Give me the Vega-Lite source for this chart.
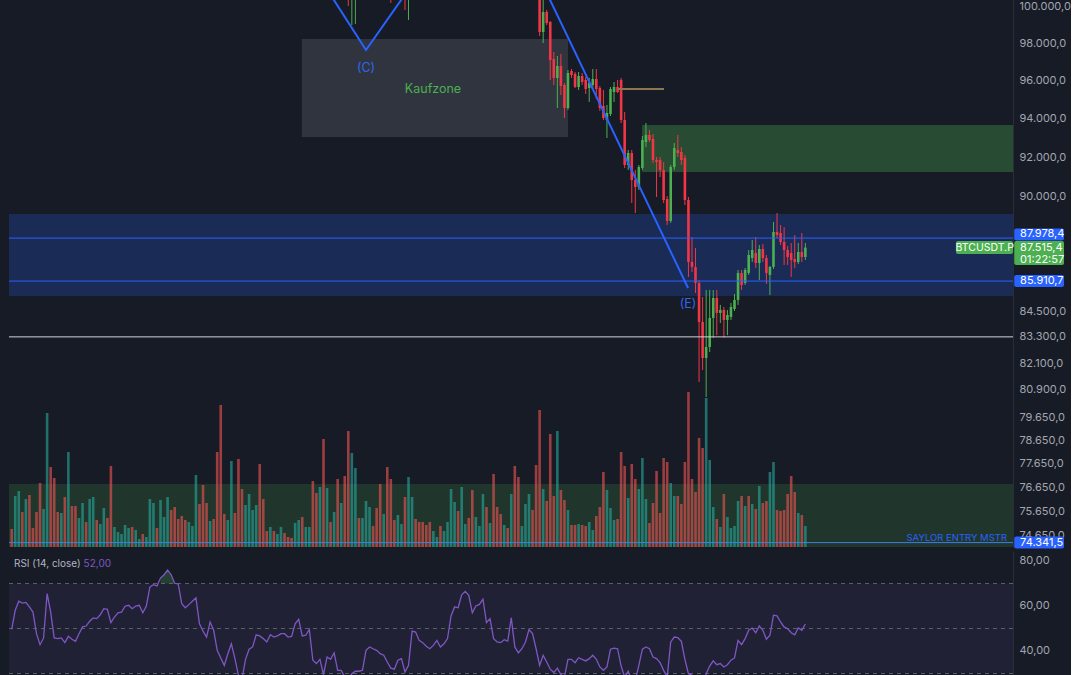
{
"$schema":"https://vega.github.io/schema/vega-lite/v6.json",
"background":"#171b26",
"padding":{"left":8,"top":0,"right":0,"bottom":0},
"spacing":2,
"config":{"view":{"stroke":null},"font":"Inter","locale":{"number":{"decimal":",","thousands":".","grouping":[3],"currency":[""," €"]}}},
"datasets":{
"zones":[{"k":"grey","x1":81.9,"x2":157.0,"lo":93036,"hi":98218},{"k":"green","x1":177.9,"x2":282.6,"lo":91253,"hi":93656},{"k":"blue","x1":-0.76,"x2":282.6,"lo":85204,"hi":89157},{"k":"green2","x1":-0.76,"x2":282.6,"lo":70000,"hi":76790}],
"hl":[{"k":"blue","p":87978.4},{"k":"blue","p":85910.7},{"k":"white","p":83300},{"k":"light","p":74341.5}],
"zz":[{"i":86.4,"p":101757},{"i":100.0,"p":97623},{"i":134.9,"p":107604},{"i":190.9,"p":85582}],
"tan":[{"i":171.1,"p":95540},{"i":184.1,"p":95540}],
"labels":[{"i":118.9,"p":95540,"t":"Kaufzone","k":"green"},{"i":100.0,"p":96656,"t":"(C)","k":"blue"},{"i":190.9,"p":84828,"t":"(E)","k":"blue"}],
"badges":[{"k":"hi","p":87978.4},{"k":"lo","p":85910.7},{"k":"lo","p":74341.5},{"k":"last","p":87515.4,"t2":"01:22:57","sym":"BTCUSDT.P"}],
"bars":[
{"i":0,"v":1.8,"u":0,"r":49.6},{"i":1,"v":5.1,"u":1,"r":58.1},{"i":2,"v":5.6,"u":1,"r":62.1},{"i":3,"v":3.5,"u":0,"r":61.3},{"i":4,"v":4.8,"u":1,"r":61.6},{"i":5,"v":5.2,"u":0,"r":59.6},{"i":6,"v":1.9,"u":0,"r":57.3},{"i":7,"v":3.5,"u":0,"r":47.7},{"i":8,"v":6.4,"u":0,"r":42.8},{"i":9,"v":3.8,"u":1,"r":45.8},
{"i":10,"v":13.4,"u":1,"r":65.5},{"i":11,"v":8.0,"u":0,"r":57.3},{"i":12,"v":6.9,"u":0,"r":45.8},{"i":13,"v":3.5,"u":0,"r":45.5},{"i":14,"v":3.4,"u":1,"r":45.8},{"i":15,"v":5.0,"u":0,"r":43.7},{"i":16,"v":9.5,"u":1,"r":46.5},{"i":17,"v":4.1,"u":0,"r":45.2},{"i":18,"v":4.1,"u":0,"r":44.3},{"i":19,"v":2.9,"u":1,"r":47.7},
{"i":20,"v":4.4,"u":1,"r":50.7},{"i":21,"v":2.5,"u":0,"r":51.1},{"i":22,"v":4.8,"u":1,"r":53.2},{"i":23,"v":5.0,"u":1,"r":54.7},{"i":24,"v":2.7,"u":0,"r":54.4},{"i":25,"v":2.3,"u":1,"r":56.1},{"i":26,"v":3.9,"u":1,"r":58.8},{"i":27,"v":2.9,"u":0,"r":58.5},{"i":28,"v":8.1,"u":0,"r":52.6},{"i":29,"v":2.0,"u":1,"r":55.1},
{"i":30,"v":1.5,"u":1,"r":57.0},{"i":31,"v":1.3,"u":1,"r":57.3},{"i":32,"v":2.2,"u":1,"r":59.9},{"i":33,"v":1.9,"u":1,"r":60.3},{"i":34,"v":2.0,"u":0,"r":58.8},{"i":35,"v":1.7,"u":1,"r":60.0},{"i":36,"v":0.8,"u":1,"r":60.3},{"i":37,"v":1.3,"u":0,"r":57.0},{"i":38,"v":1.0,"u":1,"r":60.0},{"i":39,"v":4.8,"u":1,"r":68.4},
{"i":40,"v":4.4,"u":1,"r":69.5},{"i":41,"v":1.9,"u":0,"r":68.9},{"i":42,"v":4.7,"u":1,"r":72.4},{"i":43,"v":3.0,"u":1,"r":73.9},{"i":44,"v":5.0,"u":1,"r":76.0},{"i":45,"v":3.7,"u":0,"r":73.9},{"i":46,"v":4.0,"u":0,"r":70.1},{"i":47,"v":2.8,"u":0,"r":69.8},{"i":48,"v":3.1,"u":0,"r":61.0},{"i":49,"v":2.7,"u":0,"r":59.2},
{"i":50,"v":2.5,"u":1,"r":60.6},{"i":51,"v":2.1,"u":1,"r":62.1},{"i":52,"v":7.2,"u":1,"r":63.6},{"i":53,"v":4.3,"u":0,"r":52.1},{"i":54,"v":6.2,"u":0,"r":48.8},{"i":55,"v":4.4,"u":0,"r":46.2},{"i":56,"v":2.6,"u":1,"r":52.9},{"i":57,"v":2.8,"u":0,"r":49.2},{"i":58,"v":9.5,"u":0,"r":40.3},{"i":59,"v":14.2,"u":0,"r":36.9},
{"i":60,"v":3.3,"u":0,"r":33.6},{"i":61,"v":2.7,"u":1,"r":38.8},{"i":62,"v":8.6,"u":1,"r":43.2},{"i":63,"v":3.4,"u":0,"r":36.6},{"i":64,"v":8.8,"u":0,"r":29.2},{"i":65,"v":5.8,"u":0,"r":27.7},{"i":66,"v":4.2,"u":1,"r":36.3},{"i":67,"v":5.3,"u":1,"r":40.8},{"i":68,"v":3.7,"u":1,"r":41.8},{"i":69,"v":4.2,"u":1,"r":47.2},
{"i":70,"v":8.3,"u":0,"r":46.7},{"i":71,"v":4.8,"u":0,"r":45.5},{"i":72,"v":1.6,"u":0,"r":44.0},{"i":73,"v":2.0,"u":1,"r":47.2},{"i":74,"v":1.6,"u":0,"r":46.2},{"i":75,"v":1.3,"u":1,"r":46.7},{"i":76,"v":2.0,"u":1,"r":47.7},{"i":77,"v":1.4,"u":0,"r":47.7},{"i":78,"v":1.0,"u":0,"r":46.2},{"i":79,"v":0.9,"u":0,"r":46.5},
{"i":80,"v":2.4,"u":1,"r":52.1},{"i":81,"v":2.7,"u":1,"r":54.1},{"i":82,"v":3.0,"u":0,"r":46.7},{"i":83,"v":2.0,"u":1,"r":47.0},{"i":84,"v":2.0,"u":1,"r":49.6},{"i":85,"v":6.6,"u":0,"r":35.9},{"i":86,"v":5.4,"u":0,"r":34.4},{"i":87,"v":6.0,"u":1,"r":36.3},{"i":88,"v":10.8,"u":0,"r":29.5},{"i":89,"v":5.9,"u":1,"r":37.3},
{"i":90,"v":2.5,"u":0,"r":36.3},{"i":91,"v":3.5,"u":1,"r":39.2},{"i":92,"v":6.8,"u":0,"r":31.4},{"i":93,"v":4.4,"u":1,"r":31.4},{"i":94,"v":7.1,"u":0,"r":28.4},
{"i":95,"v":11.6,"u":0,"r":27.5,"o":101200,"h":101500,"l":100028,"c":100600},
{"i":96,"v":9.4,"u":1,"r":29.9,"o":100700,"h":102200,"l":98982,"c":101800},
{"i":97,"v":7.9,"u":1,"r":31.0,"o":100500,"h":101900,"l":99037,"c":101400},
{"i":98,"v":2.9,"u":0,"r":31.0},{"i":99,"v":2.9,"u":1,"r":31.4},
{"i":100,"v":4.6,"u":1,"r":40.3},{"i":101,"v":4.0,"u":1,"r":41.8},{"i":102,"v":2.1,"u":0,"r":41.0},{"i":103,"v":3.9,"u":0,"r":40.3},{"i":104,"v":6.3,"u":0,"r":38.8},{"i":105,"v":3.3,"u":1,"r":38.1},{"i":106,"v":8.0,"u":0,"r":35.1},
{"i":107,"v":6.8,"u":0,"r":32.4,"o":101600,"h":102000,"l":100200,"c":100800},
{"i":108,"v":2.7,"u":0,"r":31.9},{"i":109,"v":3.2,"u":1,"r":35.9},{"i":110,"v":2.3,"u":1,"r":36.6},
{"i":111,"v":5.0,"u":0,"r":30.7,"o":101900,"h":102300,"l":99807,"c":101000},
{"i":112,"v":7.0,"u":1,"r":33.6,"o":100900,"h":102200,"l":99256,"c":101800},
{"i":113,"v":5.0,"u":1,"r":48.8},{"i":114,"v":2.8,"u":0,"r":48.4},{"i":115,"v":2.5,"u":0,"r":44.7},{"i":116,"v":2.5,"u":0,"r":43.7},{"i":117,"v":2.2,"u":0,"r":42.1},{"i":118,"v":2.5,"u":0,"r":41.0},{"i":119,"v":1.6,"u":1,"r":42.5},
{"i":120,"v":1.0,"u":1,"r":44.7},{"i":121,"v":2.1,"u":0,"r":41.8},{"i":122,"v":1.6,"u":1,"r":43.2},{"i":123,"v":2.5,"u":1,"r":45.5},{"i":124,"v":5.8,"u":1,"r":55.6},{"i":125,"v":4.5,"u":1,"r":59.6},{"i":126,"v":3.6,"u":0,"r":59.2},{"i":127,"v":6.0,"u":1,"r":65.0},{"i":128,"v":2.3,"u":1,"r":66.5},{"i":129,"v":2.9,"u":0,"r":64.7},
{"i":130,"v":5.7,"u":0,"r":57.0},{"i":131,"v":3.0,"u":1,"r":60.0},{"i":132,"v":2.1,"u":1,"r":60.7},{"i":133,"v":5.3,"u":1,"r":63.0},{"i":134,"v":4.0,"u":0,"r":52.6},{"i":135,"v":2.4,"u":1,"r":54.4},{"i":136,"v":7.3,"u":0,"r":45.5},{"i":137,"v":4.0,"u":0,"r":44.0},{"i":138,"v":3.3,"u":0,"r":43.7},{"i":139,"v":2.2,"u":1,"r":45.0},
{"i":140,"v":1.9,"u":0,"r":44.4},{"i":141,"v":5.3,"u":1,"r":54.7},{"i":142,"v":8.1,"u":0,"r":41.8},{"i":143,"v":7.0,"u":0,"r":39.2},{"i":144,"v":2.1,"u":1,"r":41.0},{"i":145,"v":4.3,"u":1,"r":44.0},{"i":146,"v":5.3,"u":1,"r":49.5},{"i":147,"v":3.7,"u":0,"r":47.7},{"i":148,"v":8.2,"u":0,"r":41.0},
{"i":149,"v":13.7,"u":0,"r":33.6,"o":100917,"h":101476,"l":98382,"c":98599},
{"i":150,"v":5.8,"u":1,"r":38.1,"o":98599,"h":100450,"l":98001,"c":99696},
{"i":151,"v":4.6,"u":0,"r":35.1,"o":99696,"h":99807,"l":98982,"c":99092},
{"i":152,"v":11.3,"u":0,"r":31.9,"o":99146,"h":99200,"l":96016,"c":97084},
{"i":153,"v":5.1,"u":0,"r":30.4,"o":97138,"h":97515,"l":95751,"c":96123},
{"i":154,"v":11.6,"u":1,"r":32.4,"o":96123,"h":97299,"l":94541,"c":96763},
{"i":155,"v":5.7,"u":0,"r":29.5,"o":96763,"h":97407,"l":95223,"c":95698},
{"i":156,"v":4.7,"u":0,"r":28.4,"o":95751,"h":95857,"l":94021,"c":94541},
{"i":157,"v":3.7,"u":1,"r":36.3,"o":94541,"h":96549,"l":94437,"c":96389},
{"i":158,"v":2.2,"u":0,"r":36.3,"o":96496,"h":96602,"l":96123,"c":96283},
{"i":159,"v":2.2,"u":0,"r":34.8,"o":96336,"h":96442,"l":95593,"c":95645},
{"i":160,"v":2.3,"u":1,"r":37.0,"o":95645,"h":96442,"l":95487,"c":96229},
{"i":161,"v":2.2,"u":0,"r":36.3,"o":96229,"h":96389,"l":95751,"c":95910},
{"i":162,"v":2.1,"u":0,"r":35.6,"o":96016,"h":96176,"l":95276,"c":95540},
{"i":163,"v":2.5,"u":1,"r":36.6,"o":95593,"h":96123,"l":94855,"c":95857},
{"i":164,"v":1.7,"u":1,"r":38.1,"o":95751,"h":96602,"l":95540,"c":96070},
{"i":165,"v":3.1,"u":0,"r":36.3,"o":96070,"h":96602,"l":95013,"c":95540},
{"i":166,"v":4.0,"u":0,"r":32.9,"o":95593,"h":95698,"l":94385,"c":94541},
{"i":167,"v":7.5,"u":0,"r":31.4,"o":94646,"h":95487,"l":93917,"c":94021},
{"i":168,"v":5.7,"u":1,"r":32.9,"o":93917,"h":94698,"l":92987,"c":94282},
{"i":169,"v":3.9,"u":1,"r":40.8,"o":94229,"h":95645,"l":94124,"c":95540},
{"i":170,"v":2.7,"u":1,"r":41.3,"o":95381,"h":95910,"l":94855,"c":95645},
{"i":171,"v":2.8,"u":0,"r":41.0,"o":95645,"h":96016,"l":95329,"c":95381},
{"i":172,"v":9.5,"u":0,"r":33.3,"o":96016,"h":96123,"l":93761,"c":93917},
{"i":173,"v":8.1,"u":0,"r":28.4,"o":93917,"h":94334,"l":91456,"c":91608},
{"i":174,"v":4.9,"u":1,"r":31.0,"o":91608,"h":92372,"l":91355,"c":92218},
{"i":175,"v":8.3,"u":0,"r":27.0,"o":92218,"h":92372,"l":89702,"c":90851},
{"i":176,"v":6.8,"u":0,"r":27.0,"o":90851,"h":91355,"l":89207,"c":90500},
{"i":177,"v":5.8,"u":1,"r":33.6,"o":90500,"h":91608,"l":90349,"c":91507},
{"i":178,"v":8.9,"u":1,"r":40.8,"o":91456,"h":93089,"l":91355,"c":92884},
{"i":179,"v":4.8,"u":1,"r":41.8,"o":92781,"h":93761,"l":92526,"c":93141},
{"i":180,"v":2.4,"u":0,"r":41.0,"o":93141,"h":93399,"l":92781,"c":92884},
{"i":181,"v":4.4,"u":0,"r":37.3,"o":92935,"h":93193,"l":91710,"c":91862},
{"i":182,"v":7.6,"u":0,"r":36.6,"o":91862,"h":92014,"l":90000,"c":91760},
{"i":183,"v":3.4,"u":0,"r":34.8,"o":91862,"h":92014,"l":91000,"c":91355},
{"i":184,"v":8.9,"u":0,"r":31.4,"o":91355,"h":91760,"l":89702,"c":89851},
{"i":185,"v":8.5,"u":0,"r":28.4,"o":89901,"h":90050,"l":88617,"c":88813},
{"i":186,"v":6.4,"u":1,"r":44.0,"o":88813,"h":91608,"l":88715,"c":91507},
{"i":187,"v":5.1,"u":1,"r":46.2,"o":91507,"h":92730,"l":91355,"c":92474},
{"i":188,"v":5.1,"u":0,"r":45.9,"o":92372,"h":93141,"l":92014,"c":92218},
{"i":189,"v":4.3,"u":0,"r":44.3,"o":92269,"h":92526,"l":91608,"c":91862},
{"i":190,"v":8.5,"u":0,"r":36.3,"o":91963,"h":92116,"l":89603,"c":89851},
{"i":191,"v":15.5,"u":0,"r":29.9,"o":89851,"h":90000,"l":86106,"c":86823},
{"i":192,"v":6.8,"u":0,"r":29.2,"o":86823,"h":88031,"l":86345,"c":86584},
{"i":193,"v":5.5,"u":0,"r":27.0,"o":86584,"h":87498,"l":85347,"c":85821},
{"i":194,"v":10.9,"u":0,"r":25.0,"o":85821,"h":85965,"l":81246,"c":83989},
{"i":195,"v":9.9,"u":0,"r":24.0,"o":83989,"h":85158,"l":81787,"c":82332},
{"i":196,"v":14.9,"u":1,"r":29.9,"o":82332,"h":85488,"l":80577,"c":82834},
{"i":197,"v":8.7,"u":1,"r":33.3,"o":82834,"h":85488,"l":82607,"c":84175},
{"i":198,"v":4.0,"u":1,"r":35.6,"o":84175,"h":85488,"l":83248,"c":85111},
{"i":199,"v":2.8,"u":0,"r":33.9,"o":85111,"h":85488,"l":83376,"c":84409},
{"i":200,"v":2.0,"u":1,"r":34.4,"o":84409,"h":84784,"l":83943,"c":84549},
{"i":201,"v":5.3,"u":0,"r":32.9,"o":84549,"h":84688,"l":83248,"c":84082},
{"i":202,"v":3.0,"u":1,"r":33.9,"o":84082,"h":84549,"l":83376,"c":84315},
{"i":203,"v":1.9,"u":1,"r":35.9,"o":84221,"h":84877,"l":84082,"c":84688},
{"i":204,"v":2.1,"u":1,"r":36.9,"o":84595,"h":85300,"l":84502,"c":85018},
{"i":205,"v":4.6,"u":1,"r":44.7,"o":85018,"h":86440,"l":84784,"c":86297},
{"i":206,"v":5.1,"u":0,"r":42.8,"o":86297,"h":86440,"l":85488,"c":85726},
{"i":207,"v":4.1,"u":1,"r":45.5,"o":85821,"h":86536,"l":85726,"c":86440},
{"i":208,"v":5.1,"u":0,"r":49.2,"o":86297,"h":87401,"l":86201,"c":87159},
{"i":209,"v":4.3,"u":1,"r":50.2,"o":87015,"h":87885,"l":86823,"c":87401},
{"i":210,"v":3.8,"u":0,"r":48.1,"o":87256,"h":88031,"l":86536,"c":86775},
{"i":211,"v":6.1,"u":1,"r":51.1,"o":86775,"h":87643,"l":85965,"c":87449},
{"i":212,"v":4.4,"u":0,"r":49.2,"o":87449,"h":87691,"l":86823,"c":87015},
{"i":213,"v":4.6,"u":0,"r":45.2,"o":87015,"h":87159,"l":85774,"c":86297},
{"i":214,"v":7.5,"u":1,"r":47.0,"o":86201,"h":86632,"l":85253,"c":86584},
{"i":215,"v":8.5,"u":1,"r":55.9,"o":86584,"h":88764,"l":86488,"c":88274},
{"i":216,"v":3.7,"u":0,"r":55.6,"o":88274,"h":89207,"l":87982,"c":88129},
{"i":217,"v":3.6,"u":0,"r":52.9,"o":88226,"h":88617,"l":87643,"c":87788},
{"i":218,"v":3.7,"u":0,"r":50.7,"o":87788,"h":88519,"l":86679,"c":87401},
{"i":219,"v":5.3,"u":0,"r":49.9,"o":87401,"h":87594,"l":86679,"c":87063},
{"i":220,"v":7.1,"u":0,"r":48.1,"o":87256,"h":87739,"l":86106,"c":86919},
{"i":221,"v":5.5,"u":0,"r":47.2,"o":86967,"h":88129,"l":86536,"c":86823},
{"i":222,"v":3.4,"u":1,"r":50.2,"o":86823,"h":87739,"l":86727,"c":87304},
{"i":223,"v":3.2,"u":0,"r":49.2,"o":87304,"h":88226,"l":86823,"c":87063},
{"i":224,"v":2.1,"u":1,"r":52.0,"o":87063,"h":87739,"l":86919,"c":87515}
]},
"vconcat":[
{
"width":1004,"height":547,
"layer":[
{"data":{"name":"zones"},"mark":{"type":"rect","clip":true},
 "encoding":{
  "x":{"field":"x1","type":"quantitative","scale":{"domain":[-0.76,282.6],"nice":false,"zero":false,"padding":0},"axis":null},
  "x2":{"field":"x2"},
  "y":{"field":"lo","type":"quantitative","scale":{"type":"log","domain":[74160,100360],"nice":false,"padding":0},"axis":null},
  "y2":{"field":"hi"},
  "color":{"condition":[{"test":"datum.k == 'grey'","value":"rgba(120,123,134,0.26)"},{"test":"datum.k == 'green'","value":"rgba(76,175,80,0.33)"},{"test":"datum.k == 'blue'","value":"rgba(41,98,255,0.22)"}],"value":"rgba(76,175,80,0.19)"}}},
{"data":{"name":"bars"},"mark":{"type":"bar","width":2.6,"clip":true},
 "encoding":{
  "x":{"field":"i","type":"quantitative","scale":{"domain":[-0.76,282.6],"nice":false,"zero":false,"padding":0},"axis":null},
  "y":{"field":"v","type":"quantitative","scale":{"domain":[0,54.7],"nice":false,"padding":0},"axis":null},
  "color":{"condition":{"test":"datum.u == 1","value":"rgba(38,166,154,0.62)"},"value":"rgba(239,83,80,0.62)"}}},
{"layer":[
 {"data":{"name":"bars"},"transform":[{"filter":"isValid(datum.h)"}],"mark":{"type":"rule","strokeWidth":1,"clip":true},
  "encoding":{
   "x":{"field":"i","type":"quantitative","scale":{"domain":[-0.76,282.6],"nice":false,"zero":false,"padding":0},"axis":null},
   "y":{"field":"l","type":"quantitative","scale":{"type":"log","domain":[74160,100360],"nice":false,"padding":0},"axis":{"orient":"right","values":[100000,98000,96000,94000,92000,90000,84500,83300,82100,80900,79650,78650,77650,76650,75650,74650],"format":",.1f","labelColor":"#a3a6af","labelFontSize":11,"labelFont":"Inter","ticks":false,"labelPadding":6,"domainColor":"#2a2e39","grid":false,"title":null,"labelOverlap":false,"labelFlush":false}},
   "y2":{"field":"h"},
   "color":{"condition":{"test":"datum.c >= datum.o","value":"#4caf50"},"value":"#f23645"}}},
 {"data":{"name":"bars"},"transform":[{"filter":"isValid(datum.h)"}],"mark":{"type":"bar","width":2.6,"clip":true},
  "encoding":{
   "x":{"field":"i","type":"quantitative","scale":{"domain":[-0.76,282.6],"nice":false,"zero":false,"padding":0},"axis":null},
   "y":{"field":"o","type":"quantitative","scale":{"type":"log","domain":[74160,100360],"nice":false,"padding":0}},
   "y2":{"field":"c"},
   "color":{"condition":{"test":"datum.c >= datum.o","value":"#4caf50"},"value":"#f23645"}}},
 {"data":{"name":"hl"},"mark":{"type":"rule","strokeWidth":1},
  "encoding":{
   "y":{"field":"p","type":"quantitative","scale":{"type":"log","domain":[74160,100360],"nice":false,"padding":0}},
   "color":{"condition":[{"test":"datum.k == 'blue'","value":"#2962ff"},{"test":"datum.k == 'white'","value":"#d1d4dc"}],"value":"#3d7fe0"}}},
 {"data":{"name":"zz"},"mark":{"type":"line","strokeWidth":2,"color":"#2962ff","clip":true},
  "encoding":{
   "x":{"field":"i","type":"quantitative","scale":{"domain":[-0.76,282.6],"nice":false,"zero":false,"padding":0},"axis":null},
   "y":{"field":"p","type":"quantitative","scale":{"type":"log","domain":[74160,100360],"nice":false,"padding":0}}}},
 {"data":{"name":"tan"},"mark":{"type":"line","strokeWidth":2,"color":"#8a7752","clip":true},
  "encoding":{
   "x":{"field":"i","type":"quantitative","scale":{"domain":[-0.76,282.6],"nice":false,"zero":false,"padding":0},"axis":null},
   "y":{"field":"p","type":"quantitative","scale":{"type":"log","domain":[74160,100360],"nice":false,"padding":0}}}},
 {"data":{"name":"labels"},"mark":{"type":"text","fontSize":12.5,"align":"center","baseline":"middle"},
  "encoding":{
   "x":{"field":"i","type":"quantitative","scale":{"domain":[-0.76,282.6],"nice":false,"zero":false,"padding":0},"axis":null},
   "y":{"field":"p","type":"quantitative","scale":{"type":"log","domain":[74160,100360],"nice":false,"padding":0}},
   "text":{"field":"t"},
   "color":{"condition":{"test":"datum.k == 'green'","value":"#4caf50"},"value":"#2f66f0"}}},
 {"data":{"values":[{"p":74341.5,"t":"SAYLOR ENTRY MSTR"}]},"mark":{"type":"text","align":"right","baseline":"bottom","dx":-6,"dy":0,"fontSize":9.5,"color":"#2962ff"},
  "encoding":{
   "x":{"value":"width"},
   "y":{"field":"p","type":"quantitative","scale":{"type":"log","domain":[74160,100360],"nice":false,"padding":0}},
   "text":{"field":"t"}}},
 {"data":{"name":"badges"},"transform":[{"filter":"datum.k == 'lo'"}],"mark":{"type":"bar","height":12,"color":"#2962ff","cornerRadius":2},
  "encoding":{
   "x":{"datum":282.95,"type":"quantitative","scale":{"domain":[-0.76,282.6],"nice":false,"zero":false,"padding":0},"axis":null},
   "x2":{"datum":297.0},
   "y":{"field":"p","type":"quantitative","scale":{"type":"log","domain":[74160,100360],"nice":false,"padding":0}}}},
 {"data":{"name":"badges"},"transform":[{"filter":"datum.k == 'hi'"}],"mark":{"type":"bar","height":12,"yOffset":-3.6,"color":"#2962ff","cornerRadius":2},
  "encoding":{
   "x":{"datum":282.95,"type":"quantitative","scale":{"domain":[-0.76,282.6],"nice":false,"zero":false,"padding":0},"axis":null},
   "x2":{"datum":297.0},
   "y":{"field":"p","type":"quantitative","scale":{"type":"log","domain":[74160,100360],"nice":false,"padding":0}}}},
 {"data":{"name":"badges"},"transform":[{"filter":"datum.k == 'last'"}],"mark":{"type":"bar","height":24,"yOffset":5.5,"color":"#4caf50","cornerRadius":2},
  "encoding":{
   "x":{"datum":282.95,"type":"quantitative","scale":{"domain":[-0.76,282.6],"nice":false,"zero":false,"padding":0},"axis":null},
   "x2":{"datum":297.0},
   "y":{"field":"p","type":"quantitative","scale":{"type":"log","domain":[74160,100360],"nice":false,"padding":0}}}},
 {"data":{"name":"badges"},"transform":[{"filter":"datum.k == 'last'"}],"mark":{"type":"bar","height":13,"color":"#4caf50","cornerRadius":2},
  "encoding":{
   "x":{"datum":266.5,"type":"quantitative","scale":{"domain":[-0.76,282.6],"nice":false,"zero":false,"padding":0},"axis":null},
   "x2":{"datum":282.6},
   "y":{"field":"p","type":"quantitative","scale":{"type":"log","domain":[74160,100360],"nice":false,"padding":0}}}},
 {"data":{"name":"badges"},"transform":[{"filter":"datum.k != 'hi'"}],"mark":{"type":"text","align":"left","baseline":"middle","fontSize":11,"color":"#ffffff"},
  "encoding":{
   "x":{"datum":284.6,"type":"quantitative","scale":{"domain":[-0.76,282.6],"nice":false,"zero":false,"padding":0},"axis":null},
   "y":{"field":"p","type":"quantitative","scale":{"type":"log","domain":[74160,100360],"nice":false,"padding":0}},
   "text":{"field":"p","type":"quantitative","format":",.1f"}}},
 {"data":{"name":"badges"},"transform":[{"filter":"datum.k == 'hi'"}],"mark":{"type":"text","align":"left","baseline":"middle","fontSize":11,"dy":-3.6,"color":"#ffffff"},
  "encoding":{
   "x":{"datum":284.6,"type":"quantitative","scale":{"domain":[-0.76,282.6],"nice":false,"zero":false,"padding":0},"axis":null},
   "y":{"field":"p","type":"quantitative","scale":{"type":"log","domain":[74160,100360],"nice":false,"padding":0}},
   "text":{"field":"p","type":"quantitative","format":",.1f"}}},
 {"data":{"name":"badges"},"transform":[{"filter":"datum.k == 'last'"}],"mark":{"type":"text","align":"left","baseline":"middle","fontSize":11,"dy":12,"color":"#ffffff"},
  "encoding":{
   "x":{"datum":284.6,"type":"quantitative","scale":{"domain":[-0.76,282.6],"nice":false,"zero":false,"padding":0},"axis":null},
   "y":{"field":"p","type":"quantitative","scale":{"type":"log","domain":[74160,100360],"nice":false,"padding":0}},
   "text":{"field":"t2"}}},
 {"data":{"name":"badges"},"transform":[{"filter":"datum.k == 'last'"}],"mark":{"type":"text","align":"center","baseline":"middle","fontSize":10.5,"color":"#ffffff"},
  "encoding":{
   "x":{"datum":274.6,"type":"quantitative","scale":{"domain":[-0.76,282.6],"nice":false,"zero":false,"padding":0},"axis":null},
   "y":{"field":"p","type":"quantitative","scale":{"type":"log","domain":[74160,100360],"nice":false,"padding":0}},
   "text":{"field":"sym"}}}
]}
],
"resolve":{"scale":{"y":"independent"}}
},
{
"width":1004,"height":126,
"layer":[
 {"data":{"values":[{"lo":30,"hi":70}]},"mark":{"type":"rect","color":"#7e57c2","opacity":0.1},
  "encoding":{
   "y":{"field":"lo","type":"quantitative","scale":{"domain":[28.44,84.44],"nice":false,"zero":false,"padding":0},"axis":{"orient":"right","values":[80,60,40],"format":",.2f","labelColor":"#a3a6af","labelFontSize":11,"labelFont":"Inter","ticks":false,"labelPadding":6,"domainColor":"#2a2e39","grid":false,"title":null}},
   "y2":{"field":"hi"}}},
 {"data":{"values":[{"lvl":70},{"lvl":50},{"lvl":30}]},"mark":{"type":"rule","strokeDash":[4,4],"color":"#5d606b","strokeWidth":1},
  "encoding":{
   "y":{"field":"lvl","type":"quantitative","scale":{"domain":[28.44,84.44],"nice":false,"zero":false,"padding":0}}}},
 {"data":{"name":"bars"},"transform":[{"filter":"datum.r > 70"}],"mark":{"type":"area","color":"#4caf50","opacity":0.25,"clip":true},
  "encoding":{
   "x":{"field":"i","type":"quantitative","scale":{"domain":[-0.76,282.6],"nice":false,"zero":false,"padding":0},"axis":null},
   "y":{"field":"r","type":"quantitative","scale":{"domain":[28.44,84.44],"nice":false,"zero":false,"padding":0}},
   "y2":{"datum":70}}},
 {"data":{"name":"bars"},"mark":{"type":"line","color":"#7e57c2","strokeWidth":1.3,"clip":true},
  "encoding":{
   "x":{"field":"i","type":"quantitative","scale":{"domain":[-0.76,282.6],"nice":false,"zero":false,"padding":0},"axis":null},
   "y":{"field":"r","type":"quantitative","scale":{"domain":[28.44,84.44],"nice":false,"zero":false,"padding":0}}}},
 {"data":{"values":[{"i":0.65,"r":78.7,"t":"RSI (14, close)","k":"t"},{"i":20.3,"r":78.7,"t":"52,00","k":"v"}]},"mark":{"type":"text","align":"left","baseline":"middle","fontSize":10},
  "encoding":{
   "x":{"field":"i","type":"quantitative","scale":{"domain":[-0.76,282.6],"nice":false,"zero":false,"padding":0},"axis":null},
   "y":{"field":"r","type":"quantitative","scale":{"domain":[28.44,84.44],"nice":false,"zero":false,"padding":0}},
   "text":{"field":"t"},
   "color":{"condition":{"test":"datum.k == 't'","value":"#b2b5be"},"value":"#7e57c2"}}}
]
}
]
}
